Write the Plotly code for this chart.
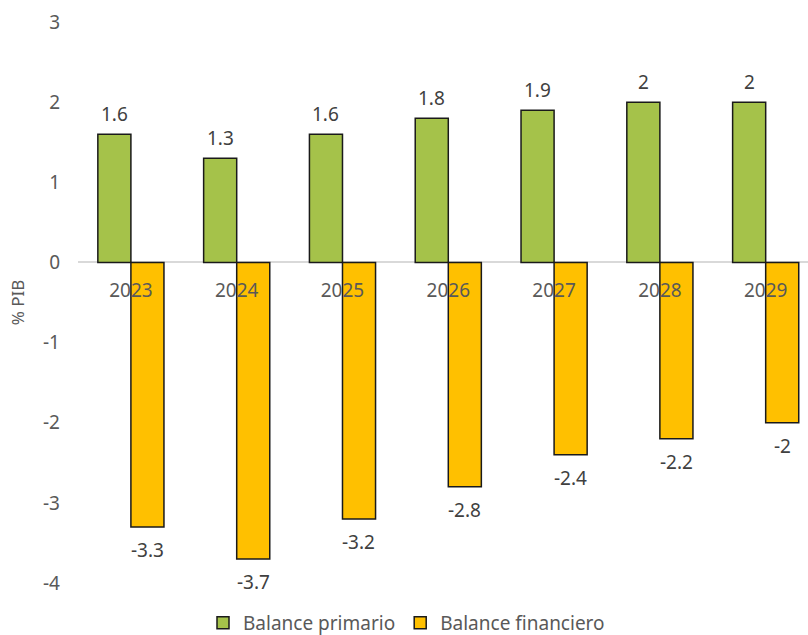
import plotly.graph_objects as go

years = ["2023", "2024", "2025", "2026", "2027", "2028", "2029"]
balance_primario = [1.6, 1.3, 1.6, 1.8, 1.9, 2, 2]
balance_financiero = [-3.3, -3.7, -3.2, -2.8, -2.4, -2.2, -2]
y_ticks = [3, 2, 1, 0, -1, -2, -3, -4]

FONT = "Noto Sans"
TXT = "#595959"
LBL = "#404040"
BAR_HALF_PX = 16.5  # half of one bar's width in pixels

fig = go.Figure()
fig.add_trace(go.Bar(
    x=years, y=balance_primario, name="Balance primario",
    marker=dict(color="#a5c24a", line=dict(color="#1a1a1a", width=1.5)),
))
fig.add_trace(go.Bar(
    x=years, y=balance_financiero, name="Balance financiero",
    marker=dict(color="#ffc000", line=dict(color="#1a1a1a", width=1.5)),
))

# value labels above positive bars / below negative bars
# (category axis: annotation x given as the category index)
for i, v in enumerate(balance_primario):
    fig.add_annotation(x=i, y=v, xref="x", yref="y", text=f"{v:g}", showarrow=False,
                       xshift=-BAR_HALF_PX, yshift=20, yanchor="middle",
                       font=dict(family=FONT, size=19, color=LBL))
for i, v in enumerate(balance_financiero):
    fig.add_annotation(x=i, y=v, xref="x", yref="y", text=f"{v:g}", showarrow=False,
                       xshift=BAR_HALF_PX, yshift=-23, yanchor="middle",
                       font=dict(family=FONT, size=19, color=LBL))

fig.update_layout(
    width=808, height=635,
    margin=dict(l=78, r=0, t=22, b=52, autoexpand=False),
    paper_bgcolor="white", plot_bgcolor="white",
    barmode="group", bargap=0.375, bargroupgap=0,
    font=dict(family=FONT, size=19, color=TXT),
    showlegend=True,
    legend=dict(orientation="h", x=0.45, xanchor="center",
                yref="container", y=12 / 635, yanchor="middle",
                font=dict(family=FONT, size=19, color=TXT), itemwidth=30,
                traceorder="normal"),
    xaxis=dict(type="category", range=[-0.5, 6.4], anchor="free", position=4 / 7,
               showline=False, ticks="", showgrid=False, ticklabelstandoff=15,
               tickfont=dict(family=FONT, size=19, color=TXT)),
    yaxis=dict(range=[-4, 3], tickvals=y_ticks, ticktext=[f"{v:g}" for v in y_ticks],
               showgrid=False, zeroline=True, zerolinecolor="#d9d9d9", zerolinewidth=2,
               showline=False, ticks="", ticklabelstandoff=17, automargin=False,
               title=dict(text="% PIB", font=dict(family=FONT, size=17, color=TXT), standoff=14),
               tickfont=dict(family=FONT, size=19, color=TXT)),
)

fig.write_html("out.html")
